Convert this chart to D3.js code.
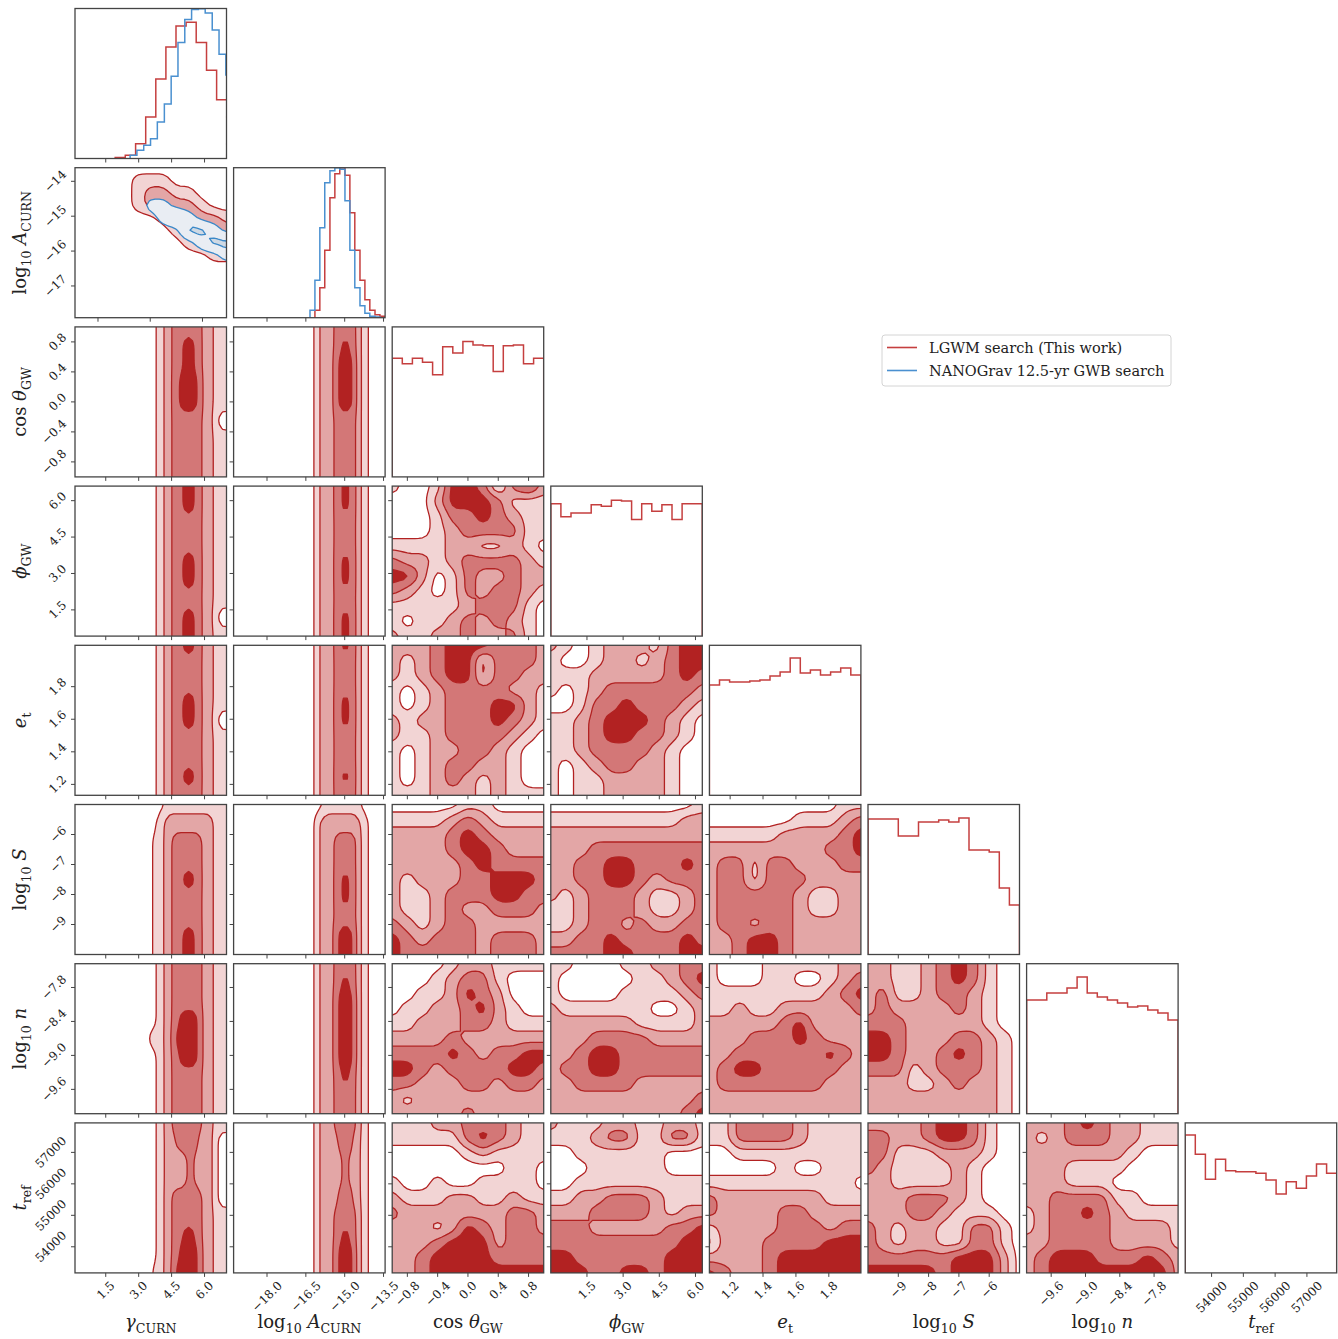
<!DOCTYPE html>
<html><head><meta charset="utf-8">
<script src="https://cdn.jsdelivr.net/npm/d3@7"></script>
<style>body{margin:0;background:#fff}svg{display:block}text{font-family:"DejaVu Serif",serif;fill:#222}</style>
</head><body><svg id="c" width="1338" height="1339"></svg>
<script>
// ---------------- data ----------------
const paramNames = ["gamma_CURN","log10_A_CURN","cos_theta_GW","phi_GW","e_t","log10_S","log10_n","t_ref"];
const xDomains = [[0.1,7],[-19.29,-13.44],[-1,1],[0,6.2832],[1.074,1.995],[-10,-5],[-10.03,-7.38],[53170,57937]];
const yDomains = [null,[-17.91,-13.61],[-1,1],[0.42,6.6],[1.133,2.054],[-10,-5],[-10.03,-7.38],[53170,57937]];
const row1GammaDomain = [2.34,6.69];
const row1GammaTicks = [3,4.5,6];
const tickValues = [[1.5,3,4.5,6],[-18,-16.5,-15,-13.5],[-0.8,-0.4,0,0.4,0.8],[1.5,3,4.5,6],[1.2,1.4,1.6,1.8],[-9,-8,-7,-6],[-9.6,-9,-8.4,-7.8],[54000,55000,56000,57000]];
const tickLabels = [["1.5","3.0","4.5","6.0"],["−18.0","−16.5","−15.0","−13.5"],["−0.8","−0.4","0.0","0.4","0.8"],["1.5","3.0","4.5","6.0"],["1.2","1.4","1.6","1.8"],["−9","−8","−7","−6"],["−9.6","−9.0","−8.4","−7.8"],["54000","55000","56000","57000"]];
const row1YTicks = [-14,-15,-16,-17];
const row1YLabels = ["−14","−15","−16","−17"];
const legendLabels = ["LGWM search (This work)","NANOGrav 12.5-yr GWB search"];

// 1D marginal histograms (heights relative to panel height)
const gammaRedEdges = [1.93,2.39,2.86,3.32,3.78,4.24,4.70,5.16,5.62,6.09,6.55,7.01];
const gammaRedHeights = [0.007,0.022,0.099,0.276,0.53,0.744,0.883,0.909,0.773,0.589,0.391];
const gammaBlueEdges = [2.61,2.92,3.23,3.54,3.85,4.17,4.48,4.79,5.10,5.41,5.72,6.03,6.35,6.66,6.97,7.28];
const gammaBlueHeights = [0.022,0.055,0.088,0.132,0.243,0.364,0.548,0.773,0.927,0.993,0.998,0.97,0.856,0.695,0.556];
const logARedEdges = [-16.15,-15.96,-15.77,-15.57,-15.38,-15.19,-14.99,-14.80,-14.61,-14.41,-14.22,-14.03,-13.83,-13.64,-13.45];
const logARedHeights = [0.05,0.2,0.45,0.8,0.96,1.0,0.95,0.7,0.45,0.25,0.12,0.05,0.02,0.01];
const logABlueEdges = [-16.34,-16.15,-15.96,-15.77,-15.57,-15.38,-15.19,-14.99,-14.80,-14.61,-14.41,-14.22,-14.03,-13.83,-13.64];
const logABlueHeights = [0.05,0.25,0.6,0.9,0.98,1.0,0.99,0.78,0.45,0.2,0.08,0.03,0.01,0.005];
const cosHist = [0.791,0.754,0.791,0.765,0.681,0.868,0.826,0.903,0.879,0.875,0.703,0.875,0.879,0.754,0.791];
const phiHist = [0.883,0.795,0.821,0.821,0.876,0.865,0.905,0.901,0.777,0.883,0.832,0.876,0.777,0.883,0.883];
const etHist = [0.735,0.769,0.755,0.755,0.762,0.769,0.795,0.822,0.915,0.815,0.835,0.802,0.822,0.849,0.802];
const logSHist = [0.903,0.903,0.903,0.79,0.79,0.883,0.883,0.897,0.883,0.91,0.697,0.697,0.683,0.443,0.33];
const lognHist = [0.758,0.758,0.805,0.805,0.838,0.911,0.805,0.778,0.758,0.738,0.711,0.718,0.691,0.671,0.625];
const trefHist = [0.919,0.791,0.624,0.757,0.681,0.675,0.675,0.664,0.619,0.526,0.608,0.564,0.646,0.726,0.664];

// 2D density levels (0 = outside, 1..4 = credible-region level), rows top→bottom
const red_1_0 = ["0000000000000","0000011100000","0000012211000","0000012322100","0000000123221","0000000012332","0000000001223","0000000000011","0000000000000","0000000000000","0000000000000","0000000000000","0000000000000"];
const blue_1_0 = ["0000000000000","0000000000000","0000000000000","0000001100000","0000000121000","0000000002210","0000000000122","0000000000001","0000000000000","0000000000000","0000000000000","0000000000000","0000000000000"];

// band-profile rows (41 samples across the panel) for the gamma and log10 A columns
const B0    = "0000000000000000000000" + "1122333333332221111";
const B0s   = "0000000000000000000000" + "1122333444332221111";
const B0L4  = "0000000000000000000000" + "1122334444432221111";
const B0N   = "0000000000000000000000" + "1122333333332221000";
const B0sN  = "0000000000000000000000" + "1122333444332221000";
const W0    = "000000000000000000000"  + "11122333333332221111";
const W0s   = "000000000000000000000"  + "11122333444332221111";
const W0L4  = "00000000000000000000"   + "111122344444432221111";
const W0L4b = "000000000000000000000"  + "11122344444432221111";
const T0a   = "000000000000000000000000" + "11111111111111111";
const T0b   = "0000000000000000000000" + "1122222222222221111";
const X0a   = "0000000000000000000000" + "1122233333322221000";
const X0b   = "0000000000000000000000" + "1122222233222221000";
const B1    = "0000000000000000000000" + "1222233333321100000";
const B1L4  = "0000000000000000000000" + "1222234444321100000";
const B1L4n = "0000000000000000000000" + "1222233443321100000";
const B1x   = "0000000000000000000000" + "1222222332221100000";
const B1m   = "0000000000000000000000" + "1222223333221100000";
const T1a   = "000000000000000000000000" + "11111111110000000";
const T1b   = "0000000000000000000000" + "1222222222221100000";

const g_2_0 = [B0, B0s, B0s, B0L4, B0L4, B0N, B0, B0, B0];
const g_3_0 = [B0s, B0s, B0, B0, B0s, B0s, B0, B0sN, B0s];
const g_4_0 = [B0s, B0, B0, B0s, B0sN, B0, B0, B0s, B0];
const g_5_0 = [T0a, T0b, W0, W0, W0s, W0, W0, W0s, W0s];
const g_6_0 = [B0, B0, B0, B0L4, W0L4, B0L4, B0, B0, B0];
const g_7_0 = [B0, X0a, X0b, X0b, B0N, B0, B0s, B0L4, W0L4b];
const g_2_1 = [B1, B1L4n, B1L4, B1L4, B1L4, B1, B1, B1, B1];
const g_3_1 = [B1L4n, B1L4n, B1, B1, B1L4n, B1L4n, B1, B1L4n, B1L4n];
const g_4_1 = [B1L4n, B1, B1, B1L4n, B1L4n, B1, B1, B1L4n, B1];
const g_5_1 = [T1a, T1b, B1, B1, B1L4n, B1L4n, B1, B1L4, B1L4];
const g_6_1 = [B1, B1L4n, B1L4, B1L4, B1L4, B1L4, B1L4n, B1, B1];
const g_7_1 = [B1, B1m, B1x, B1x, B1m, B1, B1L4n, B1L4, B1L4];

const g_3_2 = ["10014430342","00024443111","00013343211","00012333311","11112211210","32212333321","44201322322","32101323321","11111233310","10112323210","21122322310"];
const g_4_2 = ["22234443332","21234413332","21234413322","10123333221","10123334421","21223334321","21123333210","10122332100","10123322100","10123212100","11122212111"];
const g_5_2 = ["00000110000","11112321111","22223432222","22223443222","22222343333","21222334443","21123334433","21123223332","32123322222","43233323332","43333323332"];
const g_6_2 = ["00001221111","00012331000","00112432000","01122342100","11222332111","22223222222","33334323344","44323333443","33222332332","21222222222","22222322222"];
const g_7_2 = ["11122333211","11111343211","00000121111","00000000110","10010011110","21112211211","32222222332","22212432332","22234442333","22344443333","22344444444"];
const g_4_3 = ["21012221344","10012212344","11122222343","10123333332","00133433321","11234443210","11234433210","11233332100","10123322100","10112222100","10112222100"];
const g_5_3 = ["00000000001","11111111122","22222222222","22233333333","22334433343","22334432333","21233321123","11233321123","11233232233","22334333343","33334433344"];
const g_6_3 = ["11000112233","10000011234","10000111123","21111110012","22222211112","22233332222","22344333333","23344333333","22333322222","22222222223","22222222234"];
const g_7_3 = ["21112211221","11123311331","00111111000","00011111000","00111111111","11223332111","22233332122","33322222334","33333333344","44333333444","44433443444"];
const g_5_4 = ["00000000011","00000011123","11111222234","22222222334","23313322233","23313332222","23333321122","23333321122","23323322222","22344322222","22344322222"];
const g_6_4 = ["10001111122","10001100123","11111111234","11211222223","22222342222","22233343222","22333333432","23443333322","23333333222","22222222222","22222222222"];
const g_7_4 = ["11333321111","11333321111","00111111111","00000100111","11111111110","32222222111","32222332222","12222333233","02223333444","22223444444","43223444444"];
const g_6_5 = ["22112343100","22112343100","23112332100","23222232100","33322222100","44322233210","44322343210","33312333210","22211232210","22222222210","22222222210"];
const g_7_5 = ["22223443100","33223443100","33111222100","32111121000","22111121000","22233321000","22233211100","32122113310","32122113310","33333344420","44444344420"];
const g_7_6 = ["22234322111","21233322111","22222221000","22211110000","22211100000","22333311000","12334321111","12333322221","22333322221","23444333432","23444444442"];

// ---------------- layout & style ----------------
const X0 = 75, DX = 158.6, W = 151.5, Y0 = 8.5, DY = 159.2, H = 150;
const redFills = ["#f2d4d4", "#e3a6a6", "#d37777", "#b22222"];
const blueFills = ["#e9edf3", "#cfd9e4", "#b9c7d6"];
const redLine = "#b22222", blueLine = "#3a88c8";
const histRed = "#c53f3f", histBlue = "#4a90d0";
const frameColor = "#444";
const thresholds = [0.5, 1.5, 2.5, 3.5];

const svg = d3.select("#c");
const defs = svg.append("defs");
const panel = (r, c) => ({x: X0 + c * DX, y: Y0 + r * DY, w: W, h: H});

function clipFor(r, c) {
  const p = panel(r, c), id = `clip-${r}-${c}`;
  defs.append("clipPath").attr("id", id).append("rect").attr("x", p.x).attr("y", p.y).attr("width", p.w).attr("height", p.h);
  return `url(#${id})`;
}

// bilinear refinement + light binomial smoothing of a level grid (rendering only)
function refineGrid(vals, nx, ny, fx, fy) {
  const mx = (nx - 1) * fx + 1, my = (ny - 1) * fy + 1;
  let out = new Float64Array(mx * my);
  for (let j = 0; j < my; j++) {
    const gy = j / fy, j0 = Math.min(Math.floor(gy), ny - 2), ty = gy - j0;
    for (let i = 0; i < mx; i++) {
      const gx = i / fx, i0 = Math.min(Math.floor(gx), nx - 2), tx = gx - i0;
      const a = vals[j0 * nx + i0], b = vals[j0 * nx + i0 + 1], c = vals[(j0 + 1) * nx + i0], d = vals[(j0 + 1) * nx + i0 + 1];
      out[j * mx + i] = (a * (1 - tx) + b * tx) * (1 - ty) + (c * (1 - tx) + d * tx) * ty;
    }
  }
  for (let pass = 0; pass < 2; pass++) {
    const tmp = new Float64Array(mx * my);
    for (let j = 0; j < my; j++) for (let i = 0; i < mx; i++) {
      const l = out[j * mx + Math.max(i - 1, 0)], rr = out[j * mx + Math.min(i + 1, mx - 1)];
      tmp[j * mx + i] = (l + 2 * out[j * mx + i] + rr) / 4;
    }
    for (let j = 0; j < my; j++) for (let i = 0; i < mx; i++) {
      const u = tmp[Math.max(j - 1, 0) * mx + i], dn = tmp[Math.min(j + 1, my - 1) * mx + i];
      out[j * mx + i] = (u + 2 * tmp[j * mx + i] + dn) / 4;
    }
  }
  return {out, mx, my};
}

function contourLayer(g, p, grid, fills, stroke, sw) {
  const ny = grid.length, nx = grid[0].length;
  const vals = grid.flatMap(row => Array.from(row, Number));
  const fx = Math.max(1, Math.round(p.w / (nx - 1) / 4)), fy = Math.max(1, Math.round(p.h / (ny - 1) / 4));
  const {out, mx, my} = refineGrid(vals, nx, ny, fx, fy);
  const sets = d3.contours().size([mx, my]).thresholds(thresholds.slice(0, fills.length))(Array.from(out));
  const sx = d3.scaleLinear().domain([0.5, mx - 0.5]).range([p.x, p.x + p.w]);
  const sy = d3.scaleLinear().domain([0.5, my - 0.5]).range([p.y, p.y + p.h]);
  const path = d3.geoPath(d3.geoTransform({point(x, y) { this.stream.point(sx(x), sy(y)); }}));
  sets.forEach((s, i) => {
    if (!s.coordinates.length) return;
    g.append("path").attr("d", path(s)).attr("fill", fills[i]).attr("stroke", stroke)
      .attr("stroke-width", sw).attr("stroke-linejoin", "round");
  });
}

function stepHist(g, xScale, p, edges, heights, color) {
  const ys = d3.scaleLinear().domain([0, 1]).range([p.y + p.h, p.y]);
  const pts = [[edges[0], 0]];
  heights.forEach((h, i) => { pts.push([edges[i], h]); });
  pts.push([edges[edges.length - 1], heights[heights.length - 1]]);
  pts.push([edges[edges.length - 1], 0]);
  const line = d3.line().x(d => xScale(d[0])).y(d => ys(d[1])).curve(d3.curveStepAfter);
  g.append("path").attr("d", line(pts)).attr("fill", "none").attr("stroke", color).attr("stroke-width", 1.5);
}

const uniformEdges = (lo, hi, n) => d3.range(n + 1).map(i => lo + (hi - lo) * i / n);

function richText(sel, parts, fs) {
  let shift = 0;
  parts.forEach(pt => {
    const ts = sel.append("tspan").text(pt.t);
    if (pt.it) ts.attr("font-style", "italic");
    const target = pt.sub ? fs * 0.28 : 0;
    if (target !== shift) { ts.attr("dy", target - shift); shift = target; }
    if (pt.sub) ts.attr("font-size", fs * 0.7);
  });
}

const axisLabels = [
  [{t: "γ", it: 1}, {t: "CURN", sub: 1}],
  [{t: "log"}, {t: "10", sub: 1}, {t: " "}, {t: "A", it: 1}, {t: "CURN", sub: 1}],
  [{t: "cos "}, {t: "θ", it: 1}, {t: "GW", sub: 1}],
  [{t: "ϕ", it: 1}, {t: "GW", sub: 1}],
  [{t: "e", it: 1}, {t: "t", sub: 1}],
  [{t: "log"}, {t: "10", sub: 1}, {t: " "}, {t: "S", it: 1}],
  [{t: "log"}, {t: "10", sub: 1}, {t: " "}, {t: "n", it: 1}],
  [{t: "t", it: 1}, {t: "ref", sub: 1}]
];

const grids2D = {
  "2_0": g_2_0, "3_0": g_3_0, "4_0": g_4_0, "5_0": g_5_0, "6_0": g_6_0, "7_0": g_7_0,
  "2_1": g_2_1, "3_1": g_3_1, "4_1": g_4_1, "5_1": g_5_1, "6_1": g_6_1, "7_1": g_7_1,
  "3_2": g_3_2, "4_2": g_4_2, "5_2": g_5_2, "6_2": g_6_2, "7_2": g_7_2,
  "4_3": g_4_3, "5_3": g_5_3, "6_3": g_6_3, "7_3": g_7_3,
  "5_4": g_5_4, "6_4": g_6_4, "7_4": g_7_4,
  "6_5": g_6_5, "7_5": g_7_5, "7_6": g_7_6
};
const diagHists = [null, null,
  {lo: -1, hi: 1, h: cosHist}, {lo: 0, hi: 6.2832, h: phiHist}, {lo: 1.074, hi: 1.995, h: etHist},
  {lo: -10, hi: -5, h: logSHist}, {lo: -10.03, hi: -7.38, h: lognHist}, {lo: 53170, hi: 57937, h: trefHist}];

const TICK = 4, FS = 12, FH = 9;

for (let r = 0; r < 8; r++) {
  for (let c = 0; c <= r; c++) {
    const p = panel(r, c);
    const g = svg.append("g");
    const inner = g.append("g").attr("clip-path", clipFor(r, c));
    const xDom = (r === 1 && c === 0) ? row1GammaDomain : xDomains[c];
    const xs = d3.scaleLinear().domain(xDom).range([p.x, p.x + p.w]);
    if (r === c) {
      if (r === 0) {
        stepHist(inner, xs, p, gammaRedEdges, gammaRedHeights, histRed);
        stepHist(inner, xs, p, gammaBlueEdges, gammaBlueHeights, histBlue);
      } else if (r === 1) {
        stepHist(inner, xs, p, logARedEdges, logARedHeights, histRed);
        stepHist(inner, xs, p, logABlueEdges, logABlueHeights, histBlue);
      } else {
        const hd = diagHists[r];
        stepHist(inner, xs, p, uniformEdges(hd.lo, hd.hi, hd.h.length), hd.h, histRed);
      }
    } else if (r === 1 && c === 0) {
      contourLayer(inner, p, red_1_0, redFills.slice(0, 3), redLine, 1.3);
      contourLayer(inner, p, blue_1_0, blueFills.slice(0, 2), blueLine, 1.3);
    } else {
      contourLayer(inner, p, grids2D[`${r}_${c}`], redFills, redLine, 1.3);
    }
    g.append("rect").attr("x", p.x).attr("y", p.y).attr("width", p.w).attr("height", p.h)
      .attr("fill", "none").attr("stroke", frameColor).attr("stroke-width", 1.3);
    const xt = (r === 1 && c === 0) ? row1GammaTicks : tickValues[c];
    xt.forEach((v, i) => {
      const x = xs(v);
      g.append("line").attr("x1", x).attr("x2", x).attr("y1", p.y + p.h).attr("y2", p.y + p.h + TICK)
        .attr("stroke", frameColor).attr("stroke-width", 1);
      if (r === 7) {
        const t = g.append("text").attr("font-size", FS).attr("text-anchor", "middle")
          .attr("dominant-baseline", "central").text(tickLabels[c][i]);
        const w = t.node().getComputedTextLength();
        const half = (w + FH) / (2 * Math.SQRT2);
        t.attr("transform", `translate(${x},${p.y + p.h + TICK + 3.5 + half}) rotate(-45)`);
      }
    });
    if (r > c) {
      const ys = d3.scaleLinear().domain(yDomains[r]).range([p.y + p.h, p.y]);
      const yt = r === 1 ? row1YTicks : tickValues[r];
      const yl = r === 1 ? row1YLabels : tickLabels[r];
      yt.forEach((v, i) => {
        const y = ys(v);
        g.append("line").attr("x1", p.x - TICK).attr("x2", p.x).attr("y1", y).attr("y2", y)
          .attr("stroke", frameColor).attr("stroke-width", 1);
        if (c === 0) {
          const t = g.append("text").attr("font-size", FS).attr("text-anchor", "middle")
            .attr("dominant-baseline", "central").text(yl[i]);
          const w = t.node().getComputedTextLength();
          const half = (w + FH) / (2 * Math.SQRT2);
          t.attr("transform", `translate(${p.x - TICK - 3.5 - half},${y}) rotate(-45)`);
        }
      });
    }
  }
}

const LFS = 18;
for (let c = 0; c < 8; c++) {
  const p = panel(7, c);
  const t = svg.append("text").attr("font-size", LFS).attr("text-anchor", "middle")
    .attr("x", p.x + p.w / 2).attr("y", 1328);
  richText(t, axisLabels[c], LFS);
}
for (let r = 1; r < 8; r++) {
  const p = panel(r, 0);
  const t = svg.append("text").attr("font-size", LFS).attr("text-anchor", "middle")
    .attr("transform", `translate(26,${p.y + p.h / 2}) rotate(-90)`);
  richText(t, axisLabels[r], LFS);
}

const lg = svg.append("g");
lg.append("rect").attr("x", 882).attr("y", 335).attr("width", 289).attr("height", 51).attr("rx", 3)
  .attr("fill", "#fff").attr("stroke", "#d4d4d4");
[0, 1].forEach(i => {
  const y = 347.5 + i * 23;
  lg.append("line").attr("x1", 887).attr("x2", 917).attr("y1", y).attr("y2", y)
    .attr("stroke", i === 0 ? histRed : histBlue).attr("stroke-width", 1.6);
  lg.append("text").attr("x", 929).attr("y", y + 5.2).attr("font-size", 14.5).text(legendLabels[i]);
});
</script></body></html>
